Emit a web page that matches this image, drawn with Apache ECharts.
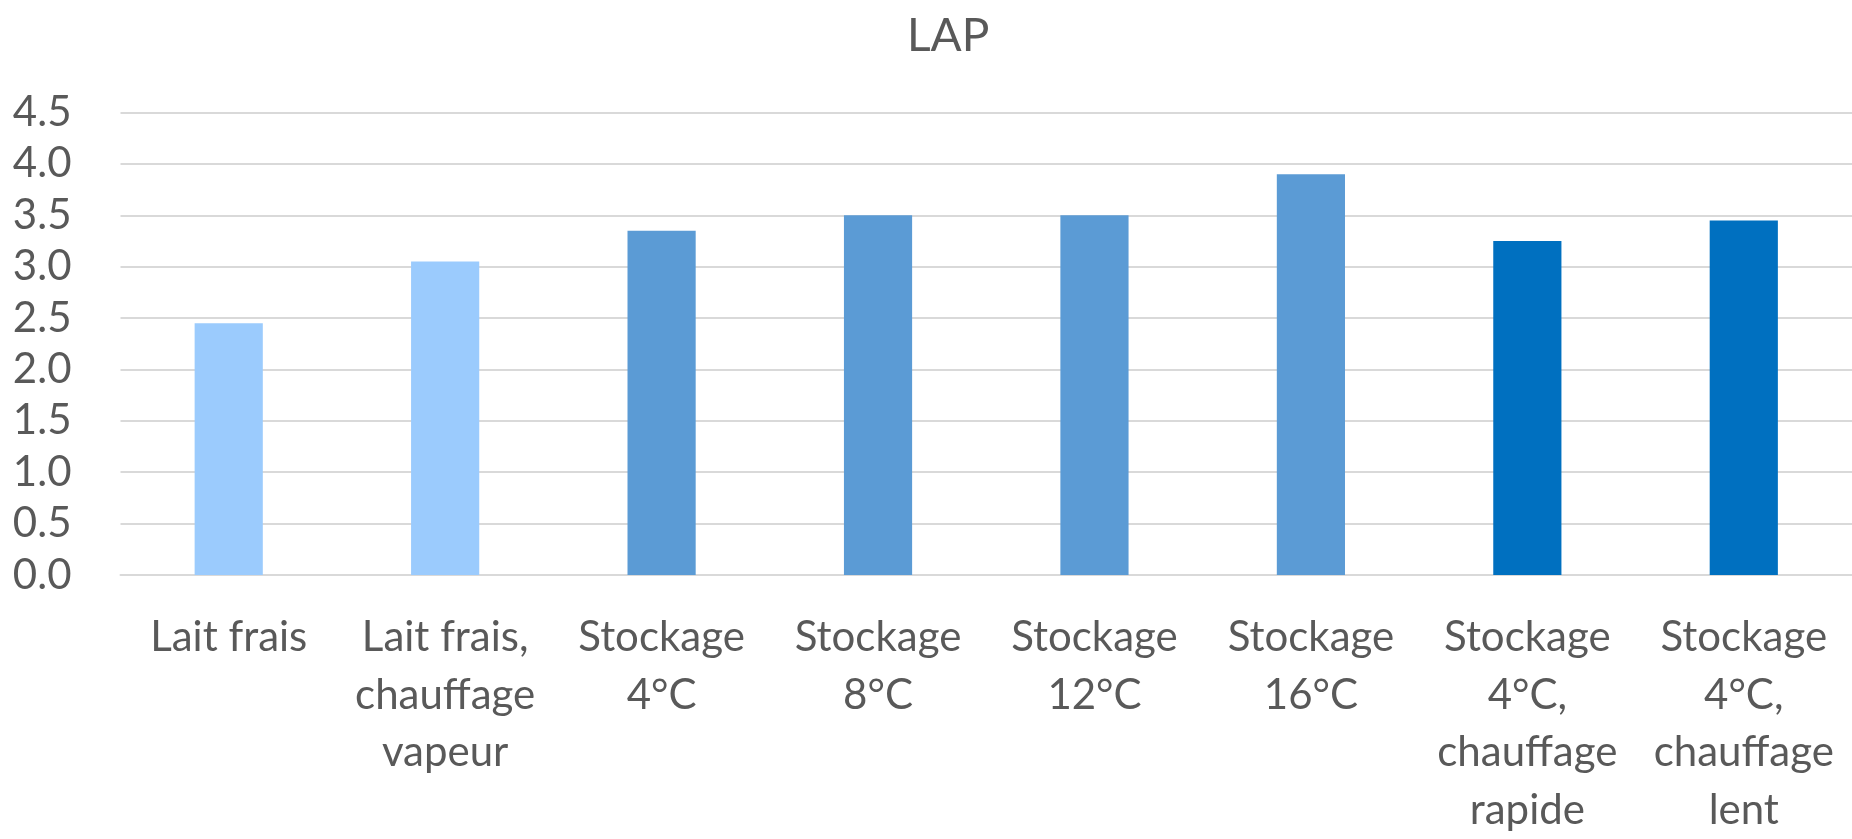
<!DOCTYPE html>
<html>
<head>
<meta charset="utf-8">
<script src="https://cdn.jsdelivr.net/npm/echarts@6/dist/echarts.min.js"></script>
<style>
  html, body { margin: 0; padding: 0; background: #ffffff; }
  #chart { width: 1852px; height: 839px; }
</style>
</head>
<body>
<div id="chart"></div>
<script>
// LAP values per milk treatment
const categories = [
  'Lait frais',
  'Lait frais,\nchauffage\nvapeur',
  'Stockage\n4°C',
  'Stockage\n8°C',
  'Stockage\n12°C',
  'Stockage\n16°C',
  'Stockage\n4°C,\nchauffage\nrapide',
  'Stockage\n4°C,\nchauffage\nlent'
];
const lapValues = [2.45, 3.05, 3.35, 3.5, 3.5, 3.9, 3.25, 3.45];
// treatment group of each bar (sets its colour)
const groups = ['frais', 'frais', 'stockage', 'stockage', 'stockage', 'stockage', 'chauffage', 'chauffage'];
const yTicks = { min: 0, max: 4.5, interval: 0.5 };

const groupColors = { frais: '#9BCBFD', stockage: '#5B9BD5', chauffage: '#0070C0' };
const textColor = '#595959';
const fontFamily = 'Lato, "Open Sans", sans-serif';

const chart = echarts.init(document.getElementById('chart'), null, { renderer: 'canvas' });
chart.setOption({
  animation: false,
  backgroundColor: '#ffffff',
  title: {
    text: 'LAP',
    left: 902,
    top: 8,
    textStyle: { color: textColor, fontFamily, fontWeight: 'normal', fontSize: 46 }
  },
  grid: { left: 120.5, right: -10, top: 112.5, bottom: 259, containLabel: false },
  xAxis: {
    type: 'category',
    data: categories,
    axisLine: { show: true, lineStyle: { color: '#D9D9D9', width: 2 } },
    axisTick: { show: false },
    axisLabel: {
      interval: 0,
      color: textColor,
      fontFamily,
      fontSize: 42,
      lineHeight: 57.5,
      margin: 34,
      align: 'center'
    }
  },
  yAxis: {
    type: 'value',
    min: yTicks.min,
    max: yTicks.max,
    interval: yTicks.interval,
    axisLine: { show: false },
    axisTick: { show: false },
    splitLine: { lineStyle: { color: '#D9D9D9', width: 2 } },
    axisLabel: {
      color: textColor,
      fontFamily,
      fontSize: 42,
      margin: 49,
      formatter: v => v.toFixed(1)
    }
  },
  series: [{
    type: 'bar',
    barWidth: '31.5%',
    data: lapValues.map((v, i) => ({
      value: v,
      itemStyle: { color: groupColors[groups[i]] }
    }))
  }]
});
</script>
</body>
</html>
